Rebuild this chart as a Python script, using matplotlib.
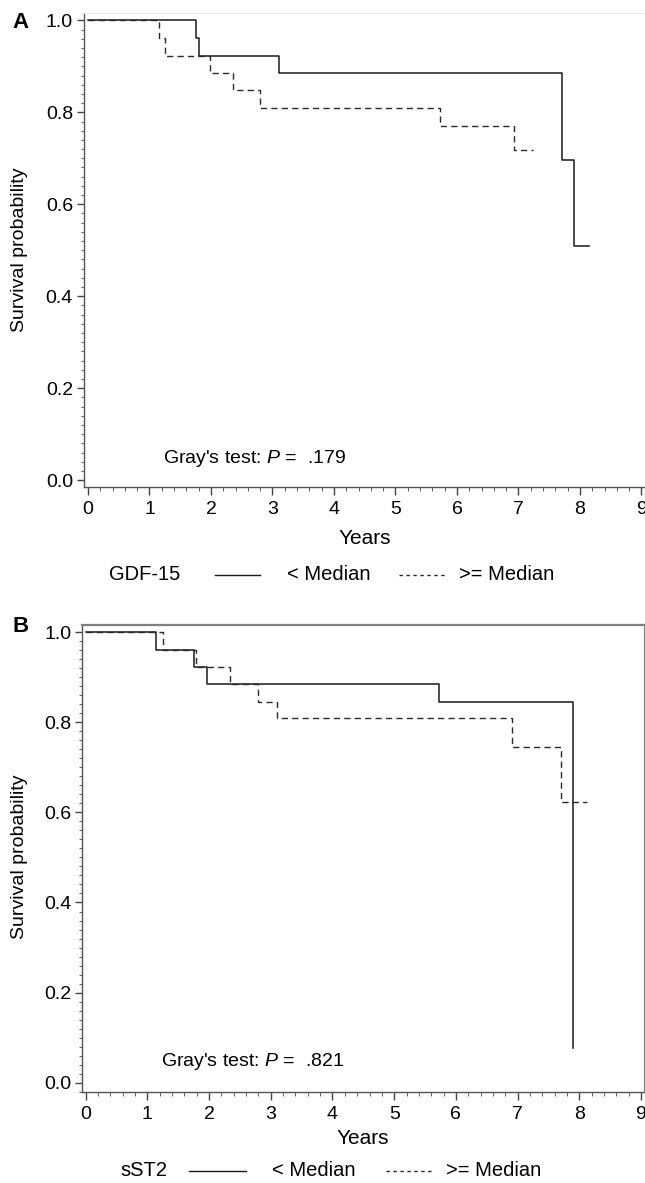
import matplotlib
matplotlib.use("Agg")
import matplotlib.pyplot as plt
from matplotlib.lines import Line2D
from matplotlib.ticker import MultipleLocator

plt.rcParams["font.family"] = ["Liberation Sans", "DejaVu Sans"]
plt.rcParams["mathtext.fontset"] = "custom"
plt.rcParams["mathtext.it"] = "Liberation Sans:italic"
plt.rcParams["mathtext.rm"] = "Liberation Sans"

W, H = 645, 1183
FS = 14

# panel A: GDF-15
A_LOW_T  = [0, 1.76, 1.81, 3.11, 7.70, 7.90, 8.14]
A_LOW_S  = [1.0, 0.961, 0.923, 0.885, 0.696, 0.509, 0.509]
A_HIGH_T = [0, 1.15, 1.26, 1.98, 2.35, 2.80, 5.73, 6.92, 7.24]
A_HIGH_S = [1.0, 0.961, 0.923, 0.885, 0.848, 0.809, 0.770, 0.717, 0.717]
A_P      = ".179"
A_MARKER = "GDF-15"

# panel B: sST2
B_LOW_T  = [0, 1.14, 1.76, 1.96, 5.72, 7.90]
B_LOW_S  = [1.0, 0.961, 0.923, 0.884, 0.846, 0.076]
B_HIGH_T = [0, 1.25, 1.79, 2.34, 2.79, 3.10, 6.91, 7.70, 8.12]
B_HIGH_S = [1.0, 0.961, 0.923, 0.884, 0.846, 0.810, 0.746, 0.624, 0.624]
B_P      = ".821"
B_MARKER = "sST2"

GROUPS = ["< Median", ">= Median"]
X_TICKS = list(range(0, 10))
Y_TICKS = [0.0, 0.2, 0.4, 0.6, 0.8, 1.0]

LINE_SOLID  = "#1a1a1a"
LINE_DASHED = "#2a2a2a"
DASHES = (4.5, 3)


def px_rect(left, top, right, bottom):
    return [left / W, 1 - bottom / H, (right - left) / W, (bottom - top) / H]


def fx(x):
    return x / W


def fy(y):
    return 1 - y / H


def draw_panel(fig, rect, xlim, ylim, low, high, pval, boxed):
    ax = fig.add_axes(rect)
    ax.step(low[0], low[1], where="post", color=LINE_SOLID, lw=1.1)
    ax.step(high[0], high[1], where="post", color=LINE_DASHED, lw=1.0,
            linestyle=(0, DASHES))
    ax.set_xlim(*xlim)
    ax.set_ylim(*ylim)
    ax.set_xticks(X_TICKS)
    ax.set_yticks(Y_TICKS)
    ax.set_yticklabels([f"{v:.1f}" for v in Y_TICKS])
    ax.xaxis.set_minor_locator(MultipleLocator(0.2))
    ax.yaxis.set_minor_locator(MultipleLocator(0.02))
    ax.tick_params(axis="both", which="major", labelsize=FS, color="#444444",
                   width=1.0)
    ax.tick_params(axis="x", which="major", length=6, pad=4)
    ax.tick_params(axis="x", which="minor", length=3, color="#444444")
    ax.tick_params(axis="y", which="major", length=5, pad=3)
    ax.tick_params(axis="y", which="minor", length=2.5, color="#444444")
    for s in ["left", "bottom"]:
        ax.spines[s].set_color("#555555")
        ax.spines[s].set_linewidth(1.0)
    if boxed:
        for s in ["top", "right"]:
            ax.spines[s].set_color("#808080")
            ax.spines[s].set_linewidth(1.6)
    else:
        ax.spines["top"].set_color("#e8e8e8")
        ax.spines["right"].set_visible(False)
    ax.text(1.22, 0.048, "Gray's test: $\\mathit{P}$ =  " + pval,
            fontsize=FS, va="center", ha="left")
    return ax


def draw_legend(fig, y, marker, mx, solid, tlow, dashed, thigh):
    fig.text(fx(mx), fy(y), marker, fontsize=FS + 0.5, va="center", ha="left")
    fig.add_artist(Line2D([fx(solid[0]), fx(solid[1])], [fy(y), fy(y)],
                          color=LINE_SOLID, lw=1.0))
    fig.text(fx(tlow), fy(y), GROUPS[0], fontsize=FS + 0.5, va="center", ha="left")
    fig.add_artist(Line2D([fx(dashed[0]), fx(dashed[1])], [fy(y), fy(y)],
                          color=LINE_DASHED, lw=1.0, linestyle=(0, (2.5, 2.5))))
    fig.text(fx(thigh), fy(y), GROUPS[1], fontsize=FS + 0.5, va="center", ha="left")


def main():
    fig = plt.figure(figsize=(W / 100, H / 100), dpi=100)
    fig.patch.set_facecolor("white")

    draw_panel(fig, px_rect(84, 13, 645, 487), (-0.065, 9.057), (-0.015, 1.016),
               (A_LOW_T, A_LOW_S), (A_HIGH_T, A_HIGH_S), A_P, boxed=False)
    draw_panel(fig, px_rect(82.3, 625, 644.7, 1091.7), (-0.055, 9.06), (-0.020, 1.016),
               (B_LOW_T, B_LOW_S), (B_HIGH_T, B_HIGH_S), B_P, boxed=True)

    fig.text(fx(12), fy(23), "A", fontsize=16, fontweight="bold", va="center")
    fig.text(fx(13), fy(626), "B", fontsize=16, fontweight="bold", va="center")

    for yc in (250, 857):
        fig.text(fx(20), fy(yc), "Survival probability", fontsize=FS,
                 rotation=90, va="center", ha="center")
    fig.text(fx(365), fy(538), "Years", fontsize=FS + 1, va="center", ha="center")
    fig.text(fx(363), fy(1139), "Years", fontsize=FS + 1, va="center", ha="center")

    draw_legend(fig, 575, A_MARKER, 109, (215, 260), 287, (399, 446), 459)
    draw_legend(fig, 1171, B_MARKER, 120, (189, 246), 272, (386, 431), 446)

    fig.savefig("out.png", dpi=100, facecolor="white")
    plt.close(fig)


if __name__ == "__main__":
    main()
